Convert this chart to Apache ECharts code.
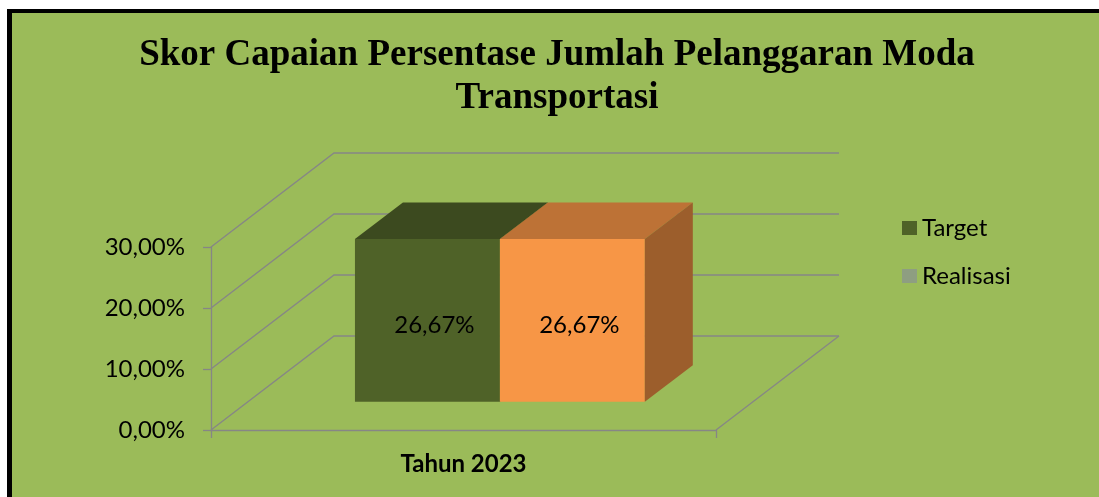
<!DOCTYPE html>
<html>
<head>
<meta charset="utf-8">
<script src="https://cdn.jsdelivr.net/npm/echarts@6/dist/echarts.min.js"></script>
<style>
    html, body { margin: 0; padding: 0; background: #fff; }
    #frame {
        position: absolute; left: 7px; top: 9px; width: 1092px; height: 488px;
        box-sizing: border-box; border-top: 4px solid #000; border-left: 5px solid #000;
        background: #9bbb59;
    }
    #chart { position: absolute; left: 0; top: 0; width: 1099px; height: 497px; }
</style>
</head>
<body>
<div id="frame"></div>
<div id="chart"></div>
<script>
var categories = ['Tahun 2023'];
var targetValues = [26.67];
var realisasiValues = [26.67];
var yTicks = [0, 10, 20, 30];

// perspective of the 3d box (floor depth in px)
var DX = 123, DY = -94;
var F0 = 0.3, F1 = 0.69;       // bar depth, start and end (fraction of floor depth)
var GAP = 0.212, BAR = 0.287;   // band fractions

var faces = [
    { front: '#4f6228', top: '#3c4a1f', side: '#3f4e20' },
    { front: '#f79646', top: '#bd7236', side: '#9c5e2c' }
];

function fmt(v) {
    return v.toFixed(2).replace('.', ',') + '%';
}

function wallItem(params, api) {
    var cs = params.coordSys;
    var left = cs.x, right = cs.x + cs.width;
    var y = api.coord([0, api.value(1)])[1];
    var children = [{
        type: 'polyline',
        shape: { points: [[left, y], [left + DX, y + DY], [right + DX, y + DY]] },
        style: { stroke: '#868686', lineWidth: 1.3, fill: null }
    }];
    if (api.value(1) === 0) {
        children.push({
            type: 'line',
            shape: { x1: right, y1: y, x2: right + DX, y2: y + DY },
            style: { stroke: '#868686', lineWidth: 1.3 }
        });
    }
    return { type: 'group', children: children };
}

function barItem(idx) {
    return function (params, api) {
        var band = api.size([1, 0])[0];
        var base = api.coord([api.value(0), 0]);
        var topPt = api.coord([api.value(0), api.value(1)]);
        var w = band * BAR;
        var x0 = base[0] - band / 2 + band * GAP + idx * w + F0 * DX;
        var yb = base[1] + F0 * DY;
        var yt = topPt[1] + F0 * DY;
        var dx = (F1 - F0) * DX, dy = (F1 - F0) * DY;
        var c = faces[idx];
        return {
            type: 'group',
            children: [
                { type: 'rect', shape: { x: x0, y: yt, width: w, height: yb - yt }, style: { fill: c.front } },
                { type: 'polygon', shape: { points: [[x0, yt], [x0 + w, yt], [x0 + w + dx, yt + dy], [x0 + dx, yt + dy]] }, style: { fill: c.top } },
                { type: 'polygon', shape: { points: [[x0 + w, yt], [x0 + w + dx, yt + dy], [x0 + w + dx, yb + dy], [x0 + w, yb]] }, style: { fill: c.side } },
                {
                    type: 'text',
                    style: {
                        text: fmt(api.value(1)), x: x0 + w / 2 + 7, y: (yt + yb) / 2 + 5,
                        align: 'center', verticalAlign: 'middle',
                        font: '24px Lato', fill: '#000'
                    }
                }
            ]
        };
    };
}

var myChart = echarts.init(document.getElementById('chart'));
var option = {
    animation: false,
    title: {
        text: 'Skor Capaian Persentase Jumlah Pelanggaran Moda\nTransportasi',
        left: 552,
        textAlign: 'center',
        top: 29,
        textStyle: { fontFamily: 'Liberation Serif', fontSize: 37, fontWeight: 'bold', lineHeight: 43, color: '#000' }
    },
    legend: {
        orient: 'vertical',
        left: 897,
        top: 211,
        itemWidth: 15,
        itemHeight: 14,
        itemGap: 24,
        icon: 'rect',
        textStyle: { fontFamily: 'Lato', fontSize: 24, color: '#000' },
        data: [
            { name: 'Target', itemStyle: { color: '#4f6228' } },
            { name: 'Realisasi', itemStyle: { color: '#8e9e81' } }
        ]
    },
    grid: { left: 211, right: 383, top: 247, bottom: 67 },
    xAxis: {
        type: 'category',
        data: categories,
        axisLine: { lineStyle: { color: '#868686', width: 1.3 } },
        axisTick: { show: true, length: 8, lineStyle: { color: '#868686', width: 1.3 } },
        axisLabel: { margin: 22, fontFamily: 'Lato', fontSize: 24, fontWeight: 'bold', color: '#000' }
    },
    yAxis: {
        type: 'value',
        min: 0,
        max: 30,
        interval: 10,
        axisLine: { show: true, lineStyle: { color: '#868686', width: 1.3 } },
        axisTick: { show: true, length: 8, lineStyle: { color: '#868686', width: 1.3 } },
        splitLine: { show: false },
        axisLabel: { margin: 26, fontFamily: 'Lato', fontSize: 24, color: '#000', formatter: fmt }
    },
    series: [
        {
            name: 'walls',
            type: 'custom',
            silent: true,
            renderItem: wallItem,
            data: yTicks.map(function (v) { return [0, v]; }),
            z: 1
        },
        {
            name: 'Target',
            type: 'custom',
            renderItem: barItem(0),
            itemStyle: { color: faces[0].front },
            data: categories.map(function (c, i) { return [i, targetValues[i]]; }),
            z: 2
        },
        {
            name: 'Realisasi',
            type: 'custom',
            renderItem: barItem(1),
            itemStyle: { color: faces[1].front },
            data: categories.map(function (c, i) { return [i, realisasiValues[i]]; }),
            z: 3
        }
    ]
};
myChart.setOption(option);
</script>
</body>
</html>
